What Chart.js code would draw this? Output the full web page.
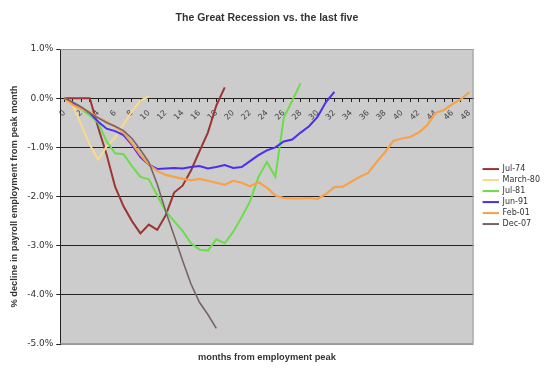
<!DOCTYPE html>
<html>
<head>
<meta charset="utf-8">
<script src="https://cdn.jsdelivr.net/npm/chart.js@4.4.1/dist/chart.umd.min.js"></script>
<style>
    body { margin: 0; background: #ffffff; }
    #wrap { width: 550px; height: 373px; }
</style>
</head>
<body>
<div id="wrap"><canvas id="recessionChart" width="550" height="373"></canvas></div>
<script>
// months from employment peak
const months = ['0', '1', '2', '3', '4', '5', '6', '7', '8', '9', '10', '11', '12', '13', '14', '15', '16',
    '17', '18', '19', '20', '21', '22', '23', '24', '25', '26', '27', '28', '29', '30', '31', '32', '33',
    '34', '35', '36', '37', '38', '39', '40', '41', '42', '43', '44', '45', '46', '47', '48'];

// % change in payroll employment from peak month
const jul74 = [0, 0, 0, 0, -0.6, -1.15, -1.8, -2.2, -2.5, -2.75, -2.57, -2.68, -2.38, -1.92, -1.78,
    -1.47, -1.08, -0.7, -0.15, 0.22];
const march80 = [0, -0.15, -0.55, -0.95, -1.25, -0.98, -0.8, -0.53, -0.27, -0.05, 0.03];
const jul81 = [0, -0.1, -0.22, -0.35, -0.5, -0.88, -1.12, -1.14, -1.38, -1.6, -1.65, -1.98, -2.3, -2.5,
    -2.7, -2.95, -3.08, -3.1, -2.87, -2.95, -2.72, -2.42, -2.1, -1.6, -1.3, -1.6, -0.4, -0.05, 0.3];
const jun91 = [0, -0.1, -0.2, -0.3, -0.48, -0.62, -0.67, -0.75, -0.95, -1.2, -1.35, -1.44, -1.43, -1.42,
    -1.43, -1.4, -1.38, -1.43, -1.4, -1.36, -1.42, -1.4, -1.28, -1.16, -1.06, -1.0, -0.88, -0.84, -0.7,
    -0.57, -0.38, -0.08, 0.13];
const feb01 = [0, -0.14, -0.22, -0.28, -0.4, -0.48, -0.58, -0.7, -0.92, -1.15, -1.35, -1.48, -1.56, -1.6,
    -1.64, -1.67, -1.64, -1.68, -1.72, -1.76, -1.68, -1.72, -1.79, -1.71, -1.82, -1.98, -2.03, -2.04,
    -2.04, -2.03, -2.05, -1.95, -1.81, -1.8, -1.7, -1.6, -1.52, -1.3, -1.1, -0.87, -0.82, -0.79, -0.7,
    -0.55, -0.3, -0.24, -0.12, -0.02, 0.12];
const dec07 = [0, -0.08, -0.18, -0.3, -0.4, -0.5, -0.57, -0.66, -0.82, -1.05, -1.3, -1.75, -2.3, -2.8,
    -3.3, -3.78, -4.15, -4.4, -4.68];

const seriesNames = ['Jul-74', 'March-80', 'Jul-81', 'Jun-91', 'Feb-01', 'Dec-07'];
const seriesData = [jul74, march80, jul81, jun91, feb01, dec07];
const seriesColors = ['#9b3535', '#fbd98c', '#6cdc4a', '#4a2ff0', '#f7a14a', '#776464'];
const seriesWidths = [2, 2, 2, 2, 2.2, 1.6];

// small line swatch for the legend, with some room on its left
function legendLine(color, width) {
    const c = document.createElement('canvas');
    c.width = 22;
    c.height = 4;
    const g = c.getContext('2d');
    g.strokeStyle = color;
    g.lineWidth = width;
    g.beginPath();
    g.moveTo(6, 2);
    g.lineTo(22, 2);
    g.stroke();
    return c;
}

const plotBackground = {
    id: 'plotBackground',
    beforeDraw(chart) {
        const {ctx, chartArea} = chart;
        ctx.save();
        ctx.fillStyle = '#cccccc';
        ctx.fillRect(chartArea.left, chartArea.top, chartArea.width, chartArea.height);
        ctx.restore();
    },
    beforeDatasetsDraw(chart) {
        const {ctx, chartArea} = chart;
        ctx.save();
        ctx.strokeStyle = '#9a9a9a';
        ctx.lineWidth = 1;
        ctx.beginPath();
        ctx.moveTo(chartArea.left, chartArea.top + 0.5);
        ctx.lineTo(chartArea.right - 0.5, chartArea.top + 0.5);
        ctx.lineTo(chartArea.right - 0.5, chartArea.bottom - 0.5);
        ctx.lineTo(chartArea.left, chartArea.bottom - 0.5);
        ctx.stroke();
        ctx.restore();
    }
};

const datasets = seriesNames.map((name, i) => ({
    label: name,
    data: seriesData[i],
    borderColor: seriesColors[i],
    backgroundColor: seriesColors[i],
    borderWidth: seriesWidths[i],
    pointRadius: 0,
    pointStyle: legendLine(seriesColors[i], 2),
    tension: 0,
    fill: false,
    order: seriesNames.length - i
}));

new Chart(document.getElementById('recessionChart').getContext('2d'), {
    type: 'line',
    data: {
        labels: months,
        datasets: datasets
    },
    plugins: [plotBackground],
    options: {
        responsive: false,
        animation: false,
        layout: {
            padding: { left: 5, right: 0, top: 0, bottom: 0 }
        },
        plugins: {
            title: {
                display: true,
                text: 'The Great Recession vs. the last five',
                fullSize: false,
                color: '#333333',
                font: { family: 'Liberation Sans', size: 10.5, weight: 'bold' },
                padding: { top: 12, bottom: 24.4 }
            },
            subtitle: {
                display: true,
                position: 'bottom',
                text: 'months from employment peak',
                fullSize: false,
                color: '#333333',
                font: { family: 'Liberation Sans', size: 9.3, weight: 'bold' },
                padding: { top: 7.4, bottom: 10.4 }
            },
            legend: {
                position: 'right',
                fullSize: false,
                labels: {
                    usePointStyle: true,
                    pointStyleWidth: 22,
                    boxHeight: 8,
                    padding: 3,
                    color: '#333333',
                    font: { family: 'DejaVu Sans', size: 8 },
                    sort: (a, b) => a.datasetIndex - b.datasetIndex
                }
            },
            tooltip: { enabled: false }
        },
        scales: {
            x: {
                type: 'category',
                position: { y: 0 },
                offset: true,
                grid: {
                    drawOnChartArea: false,
                    drawTicks: true,
                    tickLength: 3,
                    tickColor: '#222222'
                },
                border: { display: true, color: '#222222' },
                ticks: {
                    autoSkip: false,
                    minRotation: 45,
                    maxRotation: 45,
                    padding: 7,
                    color: '#444444',
                    font: { family: 'DejaVu Sans', size: 8 },
                    callback: function(value, index) {
                        return index % 2 === 0 ? this.getLabelForValue(value) : '';
                    }
                }
            },
            y: {
                min: -5,
                max: 1,
                grid: {
                    color: ctx => (ctx.tick && (ctx.tick.value === 1 || ctx.tick.value === -5)) ? '#9a9a9a' : '#222222',
                    tickColor: '#222222',
                    tickLength: 4
                },
                border: { display: true, color: '#222222' },
                ticks: {
                    stepSize: 1,
                    padding: 3,
                    color: '#333333',
                    font: { family: 'DejaVu Sans', size: 9 },
                    callback: v => v.toFixed(1) + '%'
                },
                title: {
                    display: true,
                    text: '% decline in payroll employment from peak month',
                    color: '#333333',
                    font: { family: 'Liberation Sans', size: 9.3, weight: 'bold' },
                    padding: { top: 4, bottom: 4 }
                }
            }
        }
    }
});
</script>
</body>
</html>
